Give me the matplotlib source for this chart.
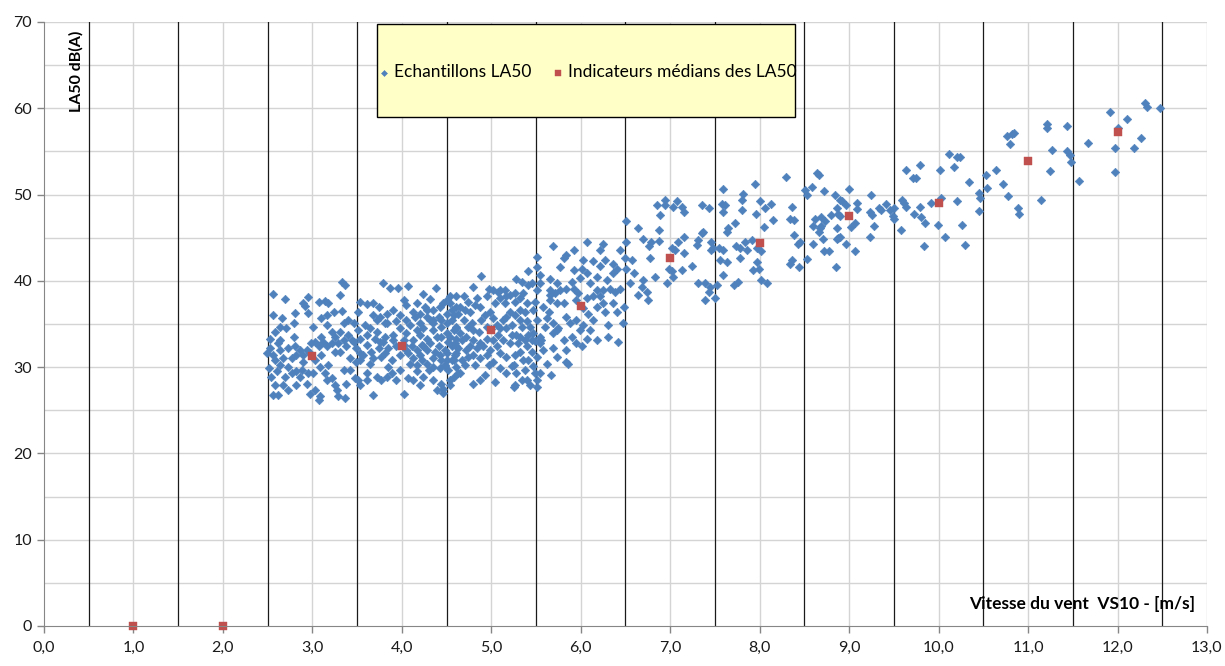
import numpy as np
import matplotlib.pyplot as plt

plt.rcParams['font.family'] = ['Lato', 'DejaVu Sans']

# LA50 samples, grouped by wind-speed zone
ws_a = [3.33, 3.36, 2.56, 2.69, 2.95, 2.90, 2.92, 3.07, 3.14, 3.18, 3.31, 2.81, 2.95, 3.10, 3.24, 3.33, 2.56, 2.66,
        3.40, 3.53, 3.61, 3.79, 3.87, 3.96, 4.07, 3.74, 3.83, 3.90, 4.05, 3.98, 3.51, 3.68, 3.76, 3.83, 4.24, 4.31,
        4.38, 4.17, 4.13, 4.20, 4.28, 4.35, 4.43, 4.50, 4.54, 4.61, 4.46, 4.56, 4.41, 4.35, 4.50, 4.61, 4.63,
        2.58, 2.53, 2.64, 2.71, 2.79, 2.86, 2.99, 3.03, 3.10, 3.16, 3.22, 3.25, 3.22, 3.29, 3.31, 3.25, 3.10, 3.03,
        2.94, 2.90, 2.82, 2.77, 2.64, 2.56, 2.49, 2.51, 2.60, 2.64, 2.73, 2.82, 2.88, 2.95, 3.08, 3.18, 3.42, 3.49,
        3.53, 3.46, 3.53, 3.61, 3.66, 3.74, 3.81, 3.89, 3.98, 4.07, 4.13, 4.20, 4.28, 4.35, 4.43, 4.50, 4.59, 3.72,
        3.81, 3.90, 3.98, 4.05, 4.13, 4.20, 4.28, 4.35, 4.44, 4.52, 4.61, 3.64, 3.59, 3.51, 3.35, 3.40, 3.44, 3.68,
        3.76, 3.94, 4.02, 4.11, 4.22, 4.31, 4.41, 4.48, 4.56, 4.63, 3.72, 3.81, 3.94, 4.09, 4.20, 4.31, 4.44, 4.56,
        2.54, 2.58, 2.62, 2.56, 2.67, 2.73, 2.82, 2.86, 2.94, 2.97, 3.03, 3.08, 3.07, 3.16, 3.22, 3.25, 3.27, 3.29,
        3.36, 3.42, 3.48, 3.51, 3.53, 3.61, 3.68, 3.72, 3.77, 3.83, 3.85, 3.94, 4.02, 4.07, 4.17, 4.24, 4.30, 4.35,
        4.44, 4.46, 4.58, 4.63]
la_a = [39.9, 39.5, 38.5, 37.9, 38.1, 37.4, 37.1, 37.6, 37.7, 37.4, 38.4, 36.3, 36.3, 35.7, 36.4, 36.5, 36.0, 35.7,
        35.5, 37.6, 37.3, 39.7, 39.2, 39.2, 39.4, 37.0, 36.2, 36.6, 37.2, 36.0, 36.4, 36.0, 35.8, 35.1, 38.5, 37.9,
        39.2, 37.4, 36.4, 36.2, 36.6, 35.5, 37.0, 36.2, 38.2, 37.0, 37.4, 36.6, 35.8, 36.6, 37.8, 34.7, 36.2,
        34.1, 33.3, 33.1, 34.5, 33.5, 32.0, 32.8, 32.9, 33.5, 34.9, 34.1, 33.5, 32.8, 32.8, 31.8, 31.8, 31.4, 30.8,
        32.0, 30.6, 31.4, 31.0, 32.0, 31.4, 31.6, 29.9, 29.5, 30.2, 30.0, 29.5, 29.7, 29.3, 30.0, 30.2, 31.0, 30.6,
        31.6, 32.9, 33.3, 32.6, 31.8, 32.2, 31.6, 30.8, 31.4, 31.6, 31.0, 31.4, 32.0, 31.0, 31.4, 30.8, 31.4, 34.1,
        33.5, 33.7, 34.5, 33.9, 33.1, 33.7, 33.3, 34.3, 33.5, 32.9, 33.3, 34.5, 34.9, 34.3, 35.1, 33.7, 33.1, 31.0,
        32.9, 32.4, 33.1, 32.4, 32.6, 32.8, 32.4, 32.0, 32.4, 32.2, 35.5, 35.1, 35.3, 34.9, 35.1, 35.5, 34.7, 35.5,
        28.9, 27.9, 26.8, 26.8, 27.9, 27.3, 27.9, 28.9, 28.1, 26.9, 27.3, 26.6, 26.2, 28.5, 28.7, 27.9, 27.3, 26.6,
        26.4, 29.7, 28.7, 28.5, 27.9, 29.3, 26.8, 28.9, 28.5, 28.9, 30.0, 28.5, 26.9, 28.7, 29.5, 28.9, 29.7, 28.5,
        28.1, 27.5, 28.9, 29.3]

ws_a2 = [4.28, 4.35, 4.44, 4.50, 4.58, 4.61, 4.56, 4.48, 4.43, 4.35, 4.28, 4.22, 4.17, 4.09, 4.05, 4.02, 4.17,
         4.24, 4.37, 4.44, 4.52, 4.61, 4.59, 4.17, 4.24, 4.39, 3.90, 3.85, 3.77, 3.64, 3.57, 3.53, 3.61, 3.70, 3.79,
         3.49, 3.38, 3.35, 3.16, 3.12, 3.07, 2.97, 2.90, 2.81, 2.73, 2.67, 2.58, 2.53, 2.62, 2.77, 2.69, 3.01, 3.14,
         3.35, 3.38, 3.61, 3.89, 3.98, 4.13, 4.20, 4.39, 4.54, 2.79, 3.01, 2.64, 3.31, 3.46, 4.05, 4.15, 4.26, 4.02,
         3.68, 3.16]
la_a2 = [35.8, 35.1, 35.5, 33.9, 34.3, 31.6, 30.8, 30.2, 29.9, 30.0, 30.4, 30.8, 30.2, 30.4, 32.0, 32.6, 32.0,
         32.4, 31.8, 30.8, 29.7, 30.0, 32.8, 34.3, 34.5, 33.5, 33.1, 32.2, 31.2, 30.4, 31.4, 30.8, 33.7, 33.3, 32.9,
         32.2, 32.4, 33.1, 32.4, 32.9, 32.4, 31.6, 31.4, 32.4, 32.2, 31.0, 30.8, 32.2, 32.8, 29.3, 28.9, 29.3, 29.3,
         29.7, 28.1, 28.5, 29.3, 29.7, 28.5, 27.9, 27.3, 27.9, 35.1, 34.7, 34.7, 34.1, 35.1, 35.5, 35.8, 37.0, 37.8,
         37.4, 36.0]

ws_b = [5.69, 6.07, 6.25, 6.22, 6.44, 5.51, 5.84, 5.81, 6.03, 6.14, 5.77, 5.92, 6.01, 6.22, 6.40, 6.36, 5.51,
        4.89, 5.28, 5.34, 5.41, 5.54, 5.66, 5.90, 5.92, 6.10, 6.18, 6.25, 6.33, 6.44, 4.80, 4.97, 5.02, 5.08, 5.15,
        5.21, 5.27, 5.36, 5.45, 5.51, 5.66, 5.71, 5.77, 5.81, 5.73, 5.66, 5.97, 6.07, 6.14, 6.25, 6.36, 6.27, 6.40,
        6.14, 6.31, 6.42, 6.31, 6.08, 5.95, 6.03, 6.07, 5.95, 5.84, 5.84, 5.88, 5.81, 5.73, 5.69, 5.62, 5.60, 5.56,
        5.54, 5.51, 5.49, 5.47, 5.40, 5.38, 5.32, 5.34, 5.41, 5.43, 5.27, 5.21, 5.15, 5.10, 5.04, 4.99, 4.93, 4.87,
        4.82, 4.76, 4.71, 4.69, 4.78, 4.86, 4.95, 5.00, 5.08, 5.13, 5.21, 5.28, 5.10, 5.17, 5.23, 5.32, 5.49, 5.54,
        5.51, 5.47, 5.49, 5.51, 5.43, 5.40, 5.38, 5.36, 5.32, 5.27, 5.25, 5.27, 5.17, 5.10, 5.06, 4.99, 4.91, 4.84,
        4.80, 4.72, 4.67, 4.72, 4.80, 4.65, 4.87, 4.95, 5.02, 4.82, 4.71, 4.67, 4.93, 4.87, 4.80, 5.04, 5.25, 4.65,
        5.86, 5.67, 5.69]
la_b = [44.0, 44.5, 44.3, 43.6, 43.6, 42.8, 43.0, 42.6, 42.4, 42.3, 41.6, 41.3, 41.4, 41.7, 41.4, 40.9, 41.6,
        40.6, 40.2, 39.9, 39.5, 39.8, 40.2, 39.9, 39.1, 39.7, 38.9, 38.9, 39.1, 39.1, 39.3, 39.1, 38.9, 38.7, 38.9,
        38.4, 38.6, 38.6, 39.7, 38.9, 38.9, 38.6, 38.9, 37.4, 37.4, 37.8, 38.6, 38.0, 38.2, 37.4, 37.4, 36.4, 36.4,
        35.5, 34.9, 32.9, 33.5, 36.2, 35.5, 34.9, 33.3, 32.8, 32.0, 30.6, 35.1, 33.1, 34.3, 32.2, 35.7, 34.7, 33.1,
        33.5, 35.5, 37.6, 36.6, 37.4, 36.4, 36.6, 34.7, 33.7, 34.7, 36.0, 36.4, 37.4, 38.0, 37.4, 36.4, 36.0, 37.0,
        37.2, 36.4, 36.6, 35.5, 35.1, 34.1, 34.7, 34.4, 33.7, 33.1, 32.8, 33.7, 34.5, 34.5, 34.9, 33.5, 33.0, 32.8,
        31.2, 30.1, 29.3, 28.5, 27.9, 28.5, 29.7, 30.8, 31.8, 31.4, 30.2, 27.9, 31.2, 31.6, 32.4, 32.0, 32.4, 32.2,
        31.4, 32.0, 33.1, 33.5, 33.1, 33.9, 31.0, 31.4, 30.6, 30.2, 30.2, 30.8, 29.1, 28.5, 28.1, 28.3, 27.7, 29.3,
        30.4, 29.1, 33.9]

ws_b2 = [4.54, 4.60, 4.65, 4.58, 4.50, 4.60, 4.54, 4.61, 4.50, 4.58, 4.48, 4.54, 4.46, 4.74, 4.80, 4.89, 5.02,
         5.13, 5.06, 5.17, 5.23, 5.02, 4.95, 4.87, 4.76, 4.74, 4.97, 5.10, 5.17, 5.23, 5.28, 5.34, 5.41, 5.45, 5.40,
         5.30, 5.38, 5.45, 5.47, 5.40, 5.32, 5.27, 5.32, 5.17, 5.10, 4.95, 4.84, 4.74, 4.69, 5.58, 5.64, 5.69, 5.75,
         5.84, 5.90, 5.99, 6.10, 6.18, 6.01, 5.73, 5.58, 5.62, 5.54, 5.51, 5.66, 5.73, 5.84, 5.99, 6.07, 6.18, 6.29,
         6.27, 6.36, 5.92, 5.54, 5.41, 5.95, 6.03, 6.18, 6.22]
la_b2 = [37.4, 38.2, 37.0, 36.0, 35.1, 34.5, 33.5, 32.4, 31.6, 30.8, 30.1, 28.5, 27.0, 34.7, 34.3, 35.5, 35.7,
         35.5, 34.9, 35.8, 33.7, 33.1, 33.3, 32.8, 32.4, 31.2, 30.2, 29.9, 29.3, 30.1, 29.3, 28.5, 30.8, 31.8, 32.4,
         32.8, 33.1, 33.1, 33.9, 35.3, 35.5, 37.6, 38.0, 38.2, 38.9, 38.2, 38.0, 37.6, 38.2, 37.0, 36.4, 35.1, 34.5,
         35.8, 33.5, 34.3, 34.3, 33.1, 32.4, 31.2, 32.0, 30.4, 29.3, 27.7, 38.4, 39.7, 39.1, 40.3, 40.9, 40.5, 40.1,
         42.4, 42.0, 43.6, 40.7, 41.1, 37.8, 36.8, 37.0, 38.2]

ws_c = [6.51, 6.64, 6.70, 6.51, 6.50, 6.57, 6.51, 6.59, 6.55, 6.70, 6.68, 6.74, 6.75, 6.64, 6.48, 6.47, 6.38,
        6.85, 6.94, 6.94, 6.89, 7.03, 7.08, 7.13, 7.15, 6.87, 6.76, 6.79, 6.87, 6.77, 6.83, 6.96, 6.99, 7.02, 7.03,
        7.02, 7.05, 7.09, 7.15, 7.15, 7.13, 7.24, 7.36, 7.43, 7.30, 7.31, 7.35, 7.37, 7.31, 7.39, 7.44, 7.43, 7.39,
        7.50, 7.46, 7.48, 7.46, 7.54, 7.59, 7.56, 7.63, 7.59, 7.52, 7.59, 7.58, 7.61, 7.59, 7.63, 7.65, 7.72, 7.71,
        7.76, 7.74, 7.78, 7.78, 7.80, 7.81, 7.80, 7.86, 7.84, 7.91, 7.95, 7.96, 8.00, 8.06, 8.13, 8.15, 8.05, 7.97,
        8.02, 7.97, 7.93, 7.99, 8.02, 8.08, 8.29, 8.36, 8.34, 8.38, 8.38, 8.43, 8.45, 8.36, 8.34, 8.44, 8.53, 8.60,
        8.60, 8.62, 8.51, 8.58, 8.53, 8.64]
la_c = [46.9, 46.1, 44.9, 44.5, 42.6, 42.4, 41.4, 40.9, 39.7, 40.1, 39.3, 38.7, 37.8, 38.4, 37.0, 35.1, 38.7,
        48.8, 49.4, 48.8, 47.6, 48.6, 49.3, 48.6, 48.0, 45.9, 44.0, 44.5, 44.6, 42.6, 40.5, 39.7, 41.4, 41.1, 40.5,
        43.8, 43.6, 44.5, 45.1, 43.2, 41.3, 41.7, 48.8, 48.4, 44.1, 44.7, 45.5, 45.7, 39.7, 39.7, 39.3, 38.7, 37.8,
        38.0, 44.5, 43.8, 43.6, 43.8, 43.6, 42.4, 42.2, 40.7, 39.5, 50.6, 48.9, 48.8, 48.0, 45.7, 46.1, 46.7, 39.5,
        39.9, 44.0, 43.8, 42.6, 49.4, 50.1, 48.2, 43.6, 44.5, 44.7, 51.2, 47.8, 49.2, 48.4, 48.9, 47.0, 46.2, 43.8,
        43.4, 42.2, 41.3, 41.4, 40.1, 39.7, 52.0, 48.6, 47.2, 47.0, 45.3, 44.3, 44.5, 42.4, 42.0, 41.6, 42.5, 44.3,
        46.3, 47.2, 50.5, 50.9, 49.9, 52.5]

ws_d = [8.66, 8.72, 8.84, 8.90, 8.92, 9.00, 8.97, 9.09, 9.09, 8.86, 8.80, 8.88, 8.90, 8.69, 8.73, 8.67, 8.69,
        8.66, 8.71, 8.72, 8.77, 8.86, 8.88, 8.90, 8.86, 8.97, 9.02, 9.07, 9.06, 8.85, 9.24, 9.23, 9.25, 9.28, 9.23,
        9.33, 9.36, 9.41, 9.46, 9.50, 9.49, 9.50, 9.58, 9.59, 9.61, 9.64, 9.64, 9.71, 9.75, 9.79, 9.72, 9.80, 9.85,
        9.79, 9.84, 9.92, 9.99, 10.03, 10.02, 10.07, 10.12, 10.17, 10.21, 10.21, 10.26, 10.30, 10.34, 10.45, 10.46,
        10.45, 10.53, 10.64, 10.54, 10.24]
la_d = [52.3, 50.4, 49.9, 49.4, 49.2, 50.7, 48.8, 49.0, 48.3, 48.4, 47.6, 47.8, 47.5, 47.4, 46.9, 46.1, 46.3,
        45.7, 44.8, 43.4, 43.5, 44.8, 45.0, 45.1, 46.1, 44.3, 46.2, 46.7, 43.4, 41.6, 49.9, 48.0, 47.6, 46.4, 45.1,
        48.4, 48.2, 48.9, 48.2, 48.4, 47.5, 47.2, 45.9, 49.4, 49.0, 48.5, 52.8, 51.9, 51.9, 53.4, 47.7, 47.4, 46.7,
        48.6, 44.0, 49.0, 46.5, 49.6, 52.9, 45.1, 54.7, 53.2, 54.3, 49.3, 46.5, 44.2, 51.5, 50.2, 49.6,
        48.1, 52.3, 52.8, 50.8, 54.4]

ws_e = [10.72, 10.78, 10.89, 10.90, 11.14, 11.25, 11.27, 10.80, 10.76, 10.82, 10.84, 11.21, 11.21, 11.44, 11.44,
        11.47, 11.48, 11.57, 11.67, 11.92, 11.97, 11.97, 12.00, 12.11, 12.18, 12.26, 12.31, 12.33, 12.47]
la_e = [51.2, 49.8, 48.4, 47.8, 49.4, 52.7, 55.2, 55.9, 56.8, 57.0, 57.1, 58.2, 57.7, 58.0, 55.0,
        54.6, 53.8, 51.6, 56.0, 59.6, 55.4, 52.6, 57.7, 58.7, 55.4, 56.6, 60.6, 60.1, 60.0]

# median indicators per wind-speed class
ws_med = [1, 2, 3, 4, 5, 6, 7, 8, 9, 10, 11, 12]
la_med = [0, 0, 31.3, 32.4, 34.3, 37.1, 42.6, 44.4, 47.5, 49.0, 53.9, 57.2]

# class limits (black vertical lines)
class_limits = [0.5, 1.5, 2.5, 3.5, 4.5, 5.5, 6.5, 7.5, 8.5, 9.5, 10.5, 11.5, 12.5]

xticks = [0, 1, 2, 3, 4, 5, 6, 7, 8, 9, 10, 11, 12, 13]
xtick_labels = ['0,0', '1,0', '2,0', '3,0', '4,0', '5,0', '6,0', '7,0', '8,0', '9,0', '10,0', '11,0', '12,0', '13,0']
yticks = [0, 10, 20, 30, 40, 50, 60, 70]

ws = ws_a + ws_a2 + ws_b + ws_b2 + ws_c + ws_d + ws_e
la = la_a + la_a2 + la_b + la_b2 + la_c + la_d + la_e

fig = plt.figure(figsize=(12.25, 6.66), dpi=100)
ax = fig.add_axes([0.0359, 0.0601, 0.9494, 0.9069])

ax.set_xlim(0, 13)
ax.set_ylim(0, 70)

# grid
for v in np.arange(5, 71, 5):
    ax.axhline(v, color='#d4d4d4', lw=1.0, zorder=0)
for v in xticks[1:]:
    ax.axvline(v, color='#d4d4d4', lw=1.0, zorder=0)
for v in class_limits:
    ax.axvline(v, color='#1a1a1a', lw=0.9, zorder=1)

ax.scatter(ws, la, marker='D', s=19, color='#4f81bd', edgecolors='#4f81bd', linewidths=0.4, zorder=3,
           label='Echantillons LA50')
ax.scatter(ws_med, la_med, marker='s', s=32, color='#c0504d', edgecolors='#c0504d', linewidths=0.3, zorder=4,
           label='Indicateurs médians des LA50', clip_on=False)

ax.set_xticks(xticks)
ax.set_xticklabels(xtick_labels)
ax.set_yticks(yticks)
ax.tick_params(axis='both', labelsize=11.5, color='#868686', length=5, width=1, labelcolor='#1a1a1a')
ax.tick_params(axis='x', pad=6)
for s in ['top', 'right']:
    ax.spines[s].set_visible(False)
for s in ['left', 'bottom']:
    ax.spines[s].set_color('#868686')
    ax.spines[s].set_zorder(5)

ax.text(0.028, 0.985, 'LA50 dB(A)', transform=ax.transAxes, rotation=90, ha='center', va='top',
        fontsize=11.5, fontweight='bold')
ax.text(0.990, 0.036, 'Vitesse du vent  VS10 - [m/s]', transform=ax.transAxes, ha='right', va='center',
        fontsize=12.5, fontweight='bold')

# legend box
box = plt.Rectangle((0.2864, 0.843), 0.3594, 0.154, transform=ax.transAxes, facecolor='#ffffc8',
                    edgecolor='black', lw=1.0, zorder=6)
ax.add_patch(box)
leg = ax.legend(loc='center', bbox_to_anchor=(0.466, 0.917), ncol=2, frameon=False, fontsize=12.5,
                handletextpad=0.1, columnspacing=1.0, markerscale=0.7, handlelength=1.0)
leg.set_zorder(7)

fig.savefig('out.png', dpi=100)
